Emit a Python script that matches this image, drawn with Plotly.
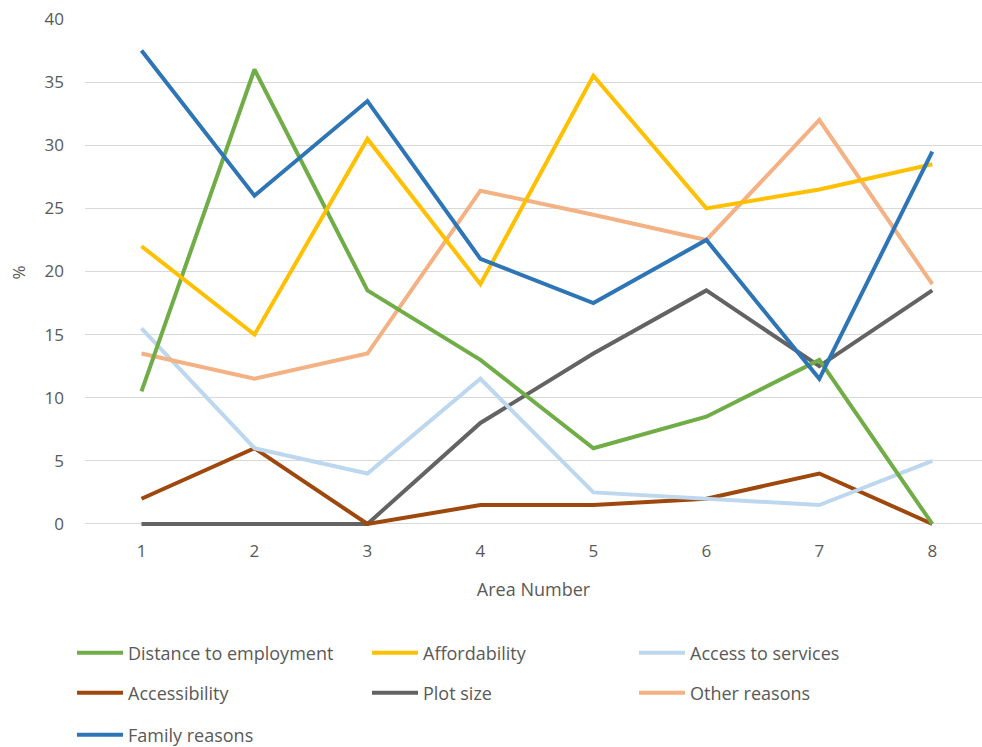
import plotly.graph_objects as go

areas = [1, 2, 3, 4, 5, 6, 7, 8]

distance_to_employment = [10.5, 36, 18.5, 13, 6, 8.5, 13, 0]
affordability = [22, 15, 30.5, 19, 35.5, 25, 26.5, 28.5]
access_to_services = [15.5, 6, 4, 11.5, 2.5, 2, 1.5, 5]
accessibility = [2, 6, 0, 1.5, 1.5, 2, 4, 0]
plot_size = [0, 0, 0, 8, 13.5, 18.5, 12.5, 18.5]
other_reasons = [13.5, 11.5, 13.5, 26.4, 24.5, 22.5, 32, 19]
family_reasons = [37.5, 26, 33.5, 21, 17.5, 22.5, 11.5, 29.5]

y_ticks = [0, 5, 10, 15, 20, 25, 30, 35, 40]

# (name, values, colour, legend column, legend row)
series = [
    ("Distance to employment", distance_to_employment, "#70AD47", 0, 0),
    ("Affordability", affordability, "#FFC000", 1, 0),
    ("Access to services", access_to_services, "#BDD7EE", 2, 0),
    ("Accessibility", accessibility, "#9E480E", 0, 1),
    ("Plot size", plot_size, "#636363", 1, 1),
    ("Other reasons", other_reasons, "#F4B183", 2, 1),
    ("Family reasons", family_reasons, "#2E75B6", 0, 2),
]

# legend grid in pixels (left edge of each column, centre of each row)
col_x = [72, 367, 634]
row_y = [653, 693, 735]

# draw order: later traces on top
draw_order = ["Plot size", "Accessibility", "Access to services", "Other reasons",
              "Distance to employment", "Affordability", "Family reasons"]

font_family = "Open Sans, Liberation Sans, sans-serif"
text_col = "#595959"

fig = go.Figure()
by_name = {s[0]: (i, s) for i, s in enumerate(series)}
legends = {}
for name in draw_order:
    i, (n, vals, col, cx, ry) = by_name[name]
    key = "legend" if i == 0 else f"legend{i + 1}"
    fig.add_trace(go.Scatter(
        x=areas, y=vals, mode="lines", name=n,
        line=dict(color=col, width=4),
        legend=key,
    ))
    legends[key] = dict(
        orientation="h", xref="container", yref="container",
        x=col_x[cx] / 982, y=1 - row_y[ry] / 747,
        xanchor="left", yanchor="middle",
        font=dict(family=font_family, size=18, color=text_col),
        bgcolor="rgba(0,0,0,0)", itemwidth=46,
    )

fig.update_layout(
    width=982, height=747,
    margin=dict(l=85, r=0, t=19, b=220.5),
    paper_bgcolor="white", plot_bgcolor="white",
    font=dict(family=font_family, size=13, color=text_col),
    showlegend=True,
    xaxis=dict(
        range=[0.5, 8.44], tickmode="array", tickvals=areas,
        ticktext=[str(a) for a in areas],
        showgrid=False, zeroline=False, showline=False, ticks="",
        ticklabelstandoff=13,
        title=dict(text="Area Number", standoff=22,
                   font=dict(family=font_family, size=18, color=text_col)),
        tickfont=dict(size=17),
    ),
    yaxis=dict(
        # small allowance below zero so lines lying on 0 are not clipped
        range=[-0.16, 40], tickmode="array", tickvals=y_ticks,
        showgrid=True, gridcolor="#D9D9D9", gridwidth=1.2,
        zeroline=False, showline=False, ticks="",
        ticklabelstandoff=20,
        title=dict(text="%", standoff=14,
                   font=dict(family=font_family, size=17, color=text_col)),
        tickfont=dict(size=17),
    ),
    **legends,
)

fig.write_html("out.html")
